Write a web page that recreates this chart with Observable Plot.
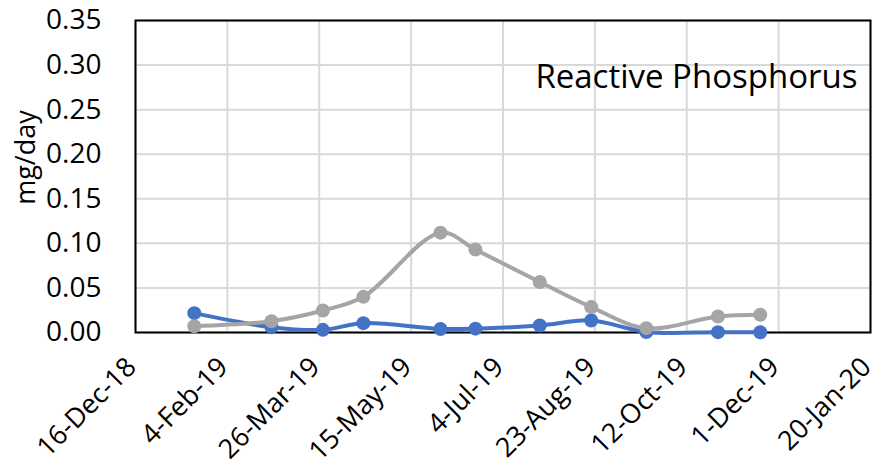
<!DOCTYPE html>
<html>
<head>
<meta charset="utf-8">
<script src="https://cdn.jsdelivr.net/npm/d3@7"></script>
<script src="https://cdn.jsdelivr.net/npm/@observablehq/plot@0.6"></script>
<style>
  html, body { margin: 0; padding: 0; background: #fff; }
  #chart svg { display: block; }
</style>
</head>
<body>
<div id="chart"></div>
<script>
const dates = ["2019-01-17","2019-02-28","2019-03-28","2019-04-19","2019-05-31","2019-06-19","2019-07-24","2019-08-21","2019-09-20","2019-10-29","2019-11-21"];
const seriesBlue = [0.0217,0.0060,0.0030,0.0105,0.0040,0.0043,0.0079,0.0135,0.0006,0.0004,0.0003];
const seriesGray = [0.0070,0.0127,0.0247,0.0400,0.1120,0.0930,0.0566,0.0285,0.0049,0.0180,0.0199];
const xTicks = ["2018-12-16","2019-02-04","2019-03-26","2019-05-15","2019-07-04","2019-08-23","2019-10-12","2019-12-01","2020-01-20"];
const yTicks = [0,0.05,0.10,0.15,0.20,0.25,0.30,0.35];
const title = "Reactive Phosphorus";
const yLabel = "mg/day";

const parse = d3.utcParse("%Y-%m-%d");
const fmt = d3.utcFormat("%-d-%b-%y");
const blue = dates.map((d, i) => ({date: parse(d), value: seriesBlue[i]}));
const gray = dates.map((d, i) => ({date: parse(d), value: seriesGray[i]}));
const xt = xTicks.map(parse);

const chart = Plot.plot({
  width: 877,
  height: 469,
  marginLeft: 135,
  marginRight: 7,
  marginTop: 20,
  marginBottom: 137,
  style: {fontFamily: "'Open Sans', sans-serif", fontSize: "27px", color: "#000", background: "#fff"},
  x: {type: "utc", domain: [xt[0], xt[xt.length - 1]]},
  y: {domain: [0, 0.35]},
  marks: [
    Plot.gridX(xt, {stroke: "#d9d9d9", strokeOpacity: 1, strokeWidth: 2}),
    Plot.gridY(yTicks, {stroke: "#d9d9d9", strokeOpacity: 1, strokeWidth: 2}),
    Plot.axisY({ticks: yTicks, tickFormat: d => d.toFixed(2), tickSize: 0, tickPadding: 34, fontSize: 28, label: null}),
    Plot.axisX({ticks: xt, tickFormat: fmt, tickSize: 0, tickRotate: -45, tickPadding: 30, fontSize: 27, dx: -4, label: null}),
    Plot.frame({stroke: "#000", strokeWidth: 2}),
    Plot.line(blue, {x: "date", y: "value", stroke: "#4472C4", strokeWidth: 4, curve: "catmull-rom"}),
    Plot.dot(blue, {x: "date", y: "value", fill: "#4472C4", r: 7}),
    Plot.line(gray, {x: "date", y: "value", stroke: "#A5A5A5", strokeWidth: 4, curve: "catmull-rom"}),
    Plot.dot(gray, {x: "date", y: "value", fill: "#A5A5A5", r: 7}),
    Plot.text([title], {frameAnchor: "top-right", dx: -13, dy: 44, fontSize: 33, fill: "#000"}),
    Plot.text([yLabel], {frameAnchor: "left", rotate: -90, dx: -109, dy: -19, fontSize: 27, fill: "#000", lineAnchor: "middle", textAnchor: "middle"})
  ]
});
document.getElementById("chart").appendChild(chart);
</script>
</body>
</html>
